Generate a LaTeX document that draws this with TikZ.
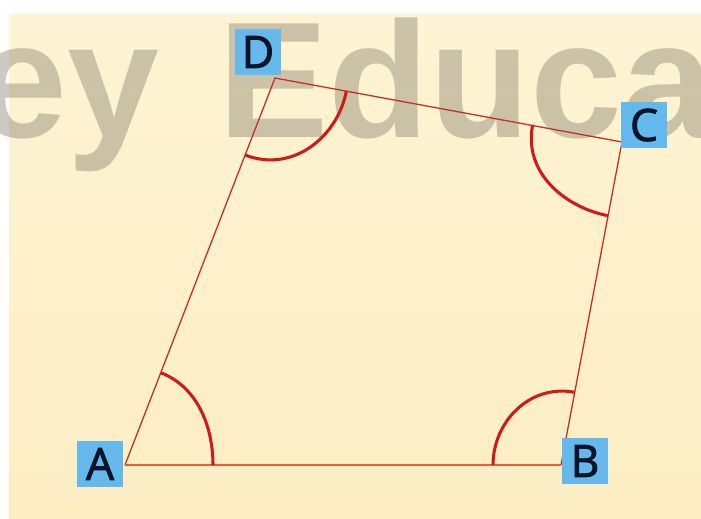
\documentclass[tikz,border=0pt]{standalone}
\usepackage{fontspec}
\setmainfont{Open Sans}
\newfontfamily\lblfont{Open Sans}[FakeBold=2]
\newfontfamily\wmfont{Liberation Sans}

\definecolor{bgtop}{HTML}{FEF4D3}
\definecolor{bgbottom}{HTML}{FCEDC3}
\definecolor{wmgray}{RGB}{120,115,100}
\definecolor{sidered}{HTML}{C2302A}
\definecolor{basered}{HTML}{F05A3C}
\definecolor{arcred}{HTML}{D01A1A}
\definecolor{lblblue}{HTML}{64B8EC}
\definecolor{lbltext}{HTML}{0A1428}

\begin{document}
\begin{tikzpicture}[x=0.03cm, y=-0.03cm,
    side/.style={draw=sidered, line width=1.1pt},
    base/.style={draw=basered, line width=2.4pt},
    anglemark/.style={draw=arcred, line width=2.6pt},
    vlabel/.style={fill=lblblue, text=lbltext, minimum size=1.38cm, inner sep=0pt,
        font=\lblfont\fontsize{38}{38}\selectfont},
    watermark/.style={text=wmgray, opacity=0.38, inner sep=0pt, anchor=base west,
        font=\wmfont\bfseries\fontsize{141}{141}\selectfont}]
    \useasboundingbox (0,0) rectangle (701,518);
    \clip (0,0) rectangle (701,518);
    \fill[white] (0,0) rectangle (701,518);
    \shade[top color=bgtop, bottom color=bgbottom] (9,14) rectangle (701,518);

    %Watermark
    \node[watermark] (wmA) at (-25,137) {ey};
    \node[watermark] (wmB) at (218,137) {Educa};

    \coordinate (A) at (125,465);
    \coordinate (B) at (561,465);
    \coordinate (C) at (622,142);
    \coordinate (D) at (275,78);

    \draw[side] (A) -- (D) -- (C) -- (B);
    \draw[base] (A) -- (B);

    %Angles
    \draw[anglemark] (213,465) .. controls (213,428.7) and (198.9,387.5) .. (160.8,372.7);
    \draw[anglemark] (493,465) .. controls (493,422.3) and (529.1,383.7) .. (574.7,392.3);
    \draw[anglemark] (532.5,125.5) .. controls (523.4,174.8) and (567.5,208.0) .. (608.1,215.7);
    \draw[anglemark] (346.3,91.2) .. controls (338.0,135.9) and (293.4,173.7) .. (245.1,155);

    %Labels
    \node[vlabel] (labA) at (100,464) {A};
    \node[vlabel] (labB) at (585,461) {B};
    \node[vlabel] (labC) at (644,125) {C};
    \node[vlabel] (labD) at (258,52) {D};
\end{tikzpicture}
\end{document}
